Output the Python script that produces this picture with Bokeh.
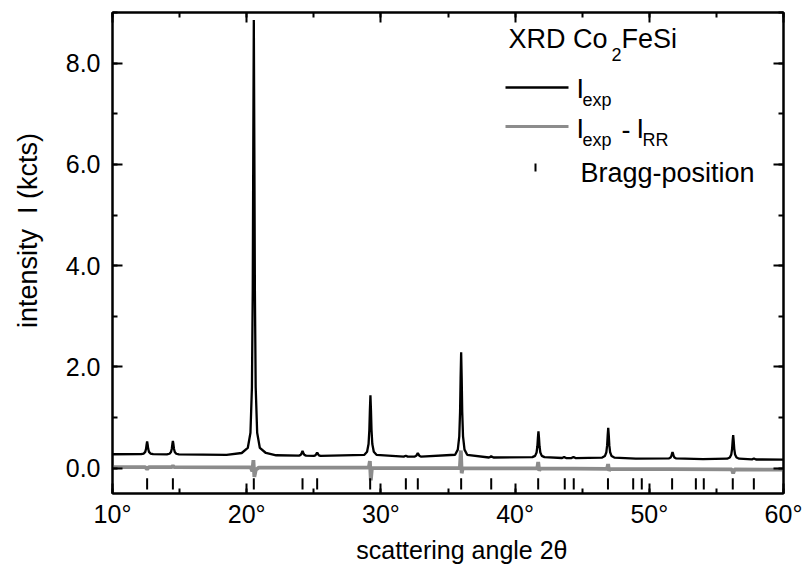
from bokeh.plotting import figure
from bokeh.models import LinearAxis, SingleIntervalTicker, PrintfTickFormatter, Range1d, Label
from bokeh.embed import file_html
from bokeh.resources import INLINE

# ---------------- data ----------------
two_theta_exp = [
    10.0,
    12.13, 12.33, 12.44, 12.50, 12.54, 12.58, 12.62, 12.66, 12.72, 12.83, 13.03,
    14.05, 14.25, 14.36, 14.42, 14.46, 14.50, 14.54, 14.58, 14.64, 14.75, 14.95,
    18.5,
    19.63, 20.08, 20.28, 20.39, 20.45, 20.49, 20.53, 20.57, 20.61, 20.67, 20.78, 20.98, 21.43,
    22.2,
    23.90, 24.02, 24.08, 24.12, 24.16, 24.20, 24.24, 24.30, 24.42,
    25.00, 25.11, 25.17, 25.21, 25.25, 25.29, 25.33, 25.39, 25.50,
    28.77, 28.97, 29.08, 29.14, 29.18, 29.22, 29.26, 29.30, 29.36, 29.47, 29.67,
    31.70, 31.86, 32.00,
    32.50, 32.61, 32.67, 32.71, 32.75, 32.79, 32.83, 32.89, 33.00,
    35.53, 35.73, 35.84, 35.90, 35.94, 35.98, 36.02, 36.06, 36.12, 36.23, 36.43,
    38.05, 38.16, 38.22, 38.28, 38.39,
    41.29, 41.49, 41.60, 41.66, 41.70, 41.74, 41.78, 41.82, 41.88, 41.99, 42.19,
    43.50, 43.65, 43.80,
    44.20, 44.35, 44.50,
    46.49, 46.69, 46.80, 46.86, 46.90, 46.94, 46.98, 47.02, 47.08, 47.19, 47.39,
    49.0,
    51.48, 51.59, 51.65, 51.69, 51.73, 51.77, 51.81, 51.87, 51.98,
    54.0,
    55.80, 56.00, 56.11, 56.17, 56.21, 56.25, 56.29, 56.33, 56.39, 56.50, 56.70,
    57.65, 57.80, 57.95,
    60.0,
]
i_exp = [
    0.275,
    0.276, 0.289, 0.322, 0.383, 0.466, 0.530, 0.466, 0.383, 0.322, 0.289, 0.276,
    0.272, 0.285, 0.320, 0.384, 0.472, 0.540, 0.472, 0.384, 0.320, 0.285, 0.272,
    0.262,
    0.300, 0.400, 0.700, 1.600, 3.500, 6.300, 8.850, 6.300, 3.500, 1.600, 0.700, 0.400, 0.300,
    0.255,
    0.248, 0.262, 0.285, 0.317, 0.340, 0.317, 0.285, 0.262, 0.248,
    0.243, 0.254, 0.270, 0.293, 0.310, 0.293, 0.270, 0.254, 0.243,
    0.264, 0.323, 0.476, 0.758, 1.144, 1.440, 1.144, 0.758, 0.476, 0.323, 0.264,
    0.228, 0.245, 0.228,
    0.228, 0.240, 0.258, 0.282, 0.300, 0.282, 0.258, 0.240, 0.228,
    0.265, 0.366, 0.630, 1.116, 1.780, 2.290, 1.780, 1.116, 0.630, 0.366, 0.265,
    0.211, 0.223, 0.240, 0.223, 0.211,
    0.218, 0.243, 0.310, 0.433, 0.601, 0.730, 0.601, 0.433, 0.310, 0.243, 0.218,
    0.201, 0.222, 0.201,
    0.200, 0.222, 0.200,
    0.209, 0.239, 0.315, 0.455, 0.647, 0.795, 0.647, 0.455, 0.315, 0.239, 0.209,
    0.190,
    0.195, 0.212, 0.244, 0.287, 0.320, 0.287, 0.244, 0.212, 0.195,
    0.178,
    0.187, 0.210, 0.271, 0.383, 0.537, 0.655, 0.537, 0.383, 0.271, 0.210, 0.187,
    0.173, 0.190, 0.172,
    0.170,
]

two_theta_diff = [
    10.0, 12.45, 12.58, 12.70, 14.40, 14.50, 14.60,
    20.30, 20.42, 20.50, 20.57, 20.68, 20.90,
    29.10, 29.18, 29.25, 29.33,
    35.88, 35.96, 36.02, 36.10,
    41.65, 41.72, 41.80, 41.88,
    46.85, 46.93, 47.00, 47.08,
    56.15, 56.25, 56.35, 60.0,
]
i_diff = [
    0.020, 0.020, -0.020, 0.020, 0.020, 0.050, 0.020,
    0.015, -0.060, 0.160, -0.170, -0.030, 0.010,
    0.010, 0.140, -0.240, 0.000,
    0.000, 0.350, -0.100, 0.000,
    -0.005, 0.120, -0.050, -0.005,
    -0.015, 0.080, -0.050, -0.015,
    -0.025, -0.100, -0.025, -0.030,
]

bragg_positions = [12.58, 14.50, 20.53, 24.16, 25.25, 29.20, 31.86, 32.75,
                   35.98, 38.22, 41.72, 43.70, 44.37, 46.92, 48.80, 49.44,
                   51.70, 53.47, 54.06, 56.22, 57.79]

x_range_deg = (10, 60)
y_range_kcts = (-0.5, 9.0)

x_title = "scattering angle 2θ"
y_title = "intensity  I (kcts)"

# ---------------- layout ----------------
W, H = 802, 567
FL, FR, FT, FB = 112, 783, 12, 493
FONT = "Liberation Sans"
NB = "\u00a0"


def px_x(px):
    return x_range_deg[0] + (px - FL) * (x_range_deg[1] - x_range_deg[0]) / (FR - FL)


def px_y(py):
    return y_range_kcts[0] + (FB - py) * (y_range_kcts[1] - y_range_kcts[0]) / (FB - FT)


p = figure(width=W, height=H, output_backend="svg", toolbar_location=None,
           x_range=Range1d(*x_range_deg), y_range=Range1d(*y_range_kcts),
           min_border_left=FL, min_border_right=W - FR,
           min_border_top=FT, min_border_bottom=H - FB,
           x_axis_location=None, y_axis_location=None)
p.grid.visible = False
p.background_fill_color = "white"
p.border_fill_color = "white"
p.outline_line_color = "black"
p.outline_line_width = 2


def style_axis(ax, labels=True):
    ax.axis_line_width = 2
    ax.axis_line_color = "black"
    ax.major_tick_in = 10
    ax.major_tick_out = 0
    ax.minor_tick_in = 5
    ax.minor_tick_out = 0
    ax.major_tick_line_width = 2
    ax.minor_tick_line_width = 2
    ax.major_tick_line_color = "black"
    ax.minor_tick_line_color = "black"
    ax.major_label_text_font = FONT
    ax.axis_label_text_font = FONT
    ax.axis_label_text_font_style = "normal"
    ax.axis_label_text_color = "black"
    if labels:
        ax.major_label_text_font_size = "25px"
        ax.major_label_text_color = "black"
    else:
        ax.major_label_text_font_size = "1px"
        ax.major_label_text_color = None
        ax.major_label_text_alpha = 0
        ax.major_label_standoff = 0


# leading no-break spaces shift the centred titles to where the reference has them
xb = LinearAxis(ticker=SingleIntervalTicker(interval=10, num_minor_ticks=2),
                formatter=PrintfTickFormatter(format="%d°"),
                axis_label=NB * 4 + x_title.replace(" ", NB))
style_axis(xb)
xb.major_label_standoff = 6
xb.axis_label_text_font_size = "25px"
xb.axis_label_standoff = 5
p.add_layout(xb, "below")

xt = LinearAxis(ticker=SingleIntervalTicker(interval=10, num_minor_ticks=2))
style_axis(xt, labels=False)
p.add_layout(xt, "above")

yl = LinearAxis(ticker=SingleIntervalTicker(interval=2, num_minor_ticks=2),
                formatter=PrintfTickFormatter(format="%.1f"),
                axis_label=NB * 6 + y_title.replace(" ", NB))
style_axis(yl)
yl.major_label_standoff = 12
yl.axis_label_text_font_size = "27px"
yl.axis_label_standoff = 20
p.add_layout(yl, "left")

yr = LinearAxis(ticker=SingleIntervalTicker(interval=2, num_minor_ticks=2))
style_axis(yr, labels=False)
p.add_layout(yr, "right")

# ---------------- data marks ----------------
p.line(two_theta_exp, i_exp, line_color="black", line_width=2.3)
p.line(two_theta_diff, i_diff, line_color="#8c8c8c", line_width=3.8)
p.segment(x0=bragg_positions, y0=[-0.20] * len(bragg_positions),
          x1=bragg_positions, y1=[-0.42] * len(bragg_positions),
          line_color="black", line_width=2)


# ---------------- legend (hand-built because of the subscripts) ----------------
def txt(s, px, py_base, size):
    # bokeh draws the 'alphabetic' anchor about 0.35 em below the real baseline
    p.add_layout(Label(x=px_x(px), y=px_y(py_base - 0.35 * size), text=s,
                       text_font=FONT, text_font_size=f"{size}px",
                       text_color="black", text_align="left",
                       text_baseline="alphabetic"))


txt("XRD Co", 508, 48, 27)
txt("2", 611, 60, 18)
txt("FeSi", 621, 48, 27)

p.line([px_x(505), px_x(568)], [px_y(87)] * 2, line_color="black", line_width=2.3)
txt("I", 576, 98, 27)
txt("exp", 582, 106, 18)

p.line([px_x(505), px_x(568)], [px_y(126)] * 2, line_color="#8c8c8c", line_width=3)
txt("I", 576, 138, 27)
txt("exp", 582, 146, 18)
txt("-", 621, 138, 27)
txt("I", 636, 138, 27)
txt("RR", 642, 146, 18)

p.segment(x0=[px_x(535)], y0=[px_y(163)], x1=[px_x(535)], y1=[px_y(171)],
          line_color="black", line_width=2)
txt("Bragg-position", 580, 182, 27)

open("out.html", "w").write(file_html(p, INLINE))
